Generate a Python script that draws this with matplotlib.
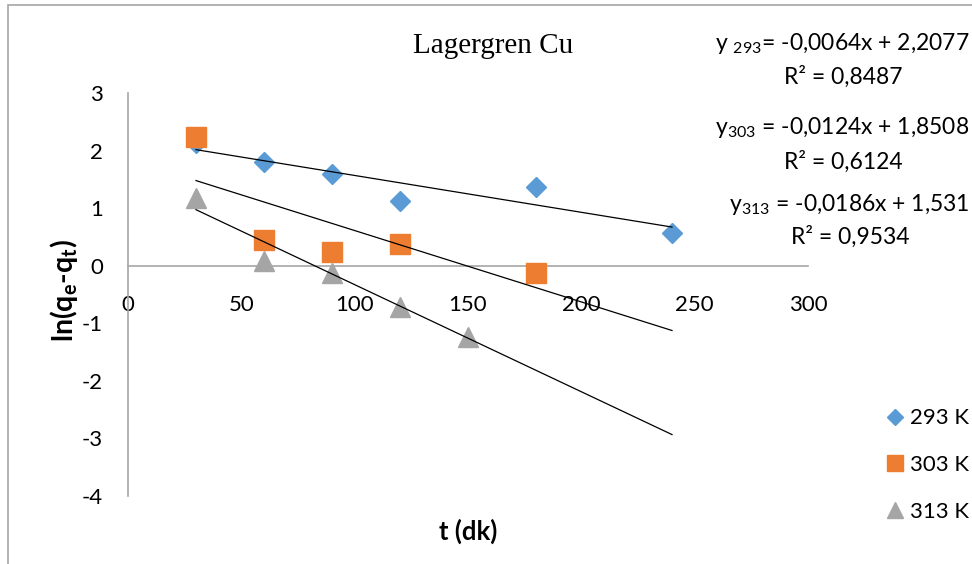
import numpy as np
import matplotlib.pyplot as plt
from matplotlib.patches import Rectangle

plt.rcParams['font.family'] = ['Lato', 'DejaVu Sans']
plt.rcParams['mathtext.fontset'] = 'custom'
plt.rcParams['mathtext.rm'] = 'Lato'
plt.rcParams['mathtext.bf'] = 'Lato:bold'
plt.rcParams['axes.unicode_minus'] = False

# time (dk) and ln(qe - qt) for each temperature
t_293 = [30, 60, 90, 120, 180, 240]
y_293 = [2.13, 1.80, 1.59, 1.12, 1.37, 0.56]
t_303 = [30, 60, 90, 120, 180]
y_303 = [2.24, 0.45, 0.24, 0.38, -0.12]
t_313 = [30, 60, 90, 120, 150]
y_313 = [1.18, 0.08, -0.12, -0.72, -1.23]

# trendlines as reported on the chart
labels = ['293 K', '303 K', '313 K']
slopes = [-0.0064, -0.0124, -0.0186]
intercepts = [2.2077, 1.8508, 1.531]
r2 = ['0,8487', '0,6124', '0,9534']
trend_range = [30, 240]

colors = ['#5B9BD5', '#ED7D31', '#A5A5A5']
markers = ['D', 's', '^']
sizes = [10.5, 14, 14]

fig = plt.figure(figsize=(9.72, 5.64), dpi=100)
ax = fig.add_axes([128 / 972, 1 - 496 / 564, 680 / 972, 403 / 564])

series = [(t_293, y_293), (t_303, y_303), (t_313, y_313)]
handles = []
for (t, y), c, m, s, lab in zip(series, colors, markers, sizes, labels):
    h, = ax.plot(t, y, linestyle='none', marker=m, markersize=s, color=c,
                 markeredgecolor=c, label=lab, zorder=3)
    handles.append(h)

xs = np.array(trend_range)
for a, b in zip(slopes, intercepts):
    ax.plot(xs, a * xs + b, color='black', lw=0.9, zorder=4)

ax.set_xlim(0, 300)
ax.set_ylim(-4, 3)
ax.set_xticks(range(0, 301, 50))
ax.set_yticks(range(-4, 4))
ax.spines['bottom'].set_position(('data', 0))
for side in ['top', 'right']:
    ax.spines[side].set_visible(False)
for side in ['bottom', 'left']:
    ax.spines[side].set_color('#A6A6A6')
    ax.spines[side].set_linewidth(1.2)
ax.tick_params(axis='both', length=0, labelsize=16)
ax.tick_params(axis='x', pad=21)
ax.tick_params(axis='y', pad=18)

ax.set_xlabel('t (dk)', fontsize=18.5, fontweight='bold')
ax.xaxis.set_label_coords(0.5, -0.055)
ax.set_ylabel('ln(q$_\\mathbf{e}$-q$_\\mathbf{t}$)', fontsize=20.5, fontweight='bold')
ax.yaxis.set_label_coords(-0.07, 0.51)

W, H = 972, 564


def ftext(x, y, s, **kw):
    fig.text(x / W, 1 - y / H, s, ha='center', va='center', **kw)


ftext(493, 46, 'Lagergren Cu', family='Liberation Serif', fontsize=21)

eq_pos = [(842, 44, 843, 77), (842, 128, 843, 162), (849, 205, 850, 237)]
subs = ['y $_\\mathregular{293}$= ', 'y$_\\mathregular{303}$ = ', 'y$_\\mathregular{313}$ = ']
for (x1, y1, x2, y2), sb, a, b, r in zip(eq_pos, subs, slopes, intercepts, r2):
    eq = sb + ('%.4f' % a).rstrip('0').replace('.', ',') + 'x + ' + \
        ('%.4f' % b).rstrip('0').replace('.', ',')
    ftext(x1, y1, eq, fontsize=16.5)
    ftext(x2, y2, 'R² = ' + r, fontsize=16.5)

fig.legend(handles=handles, loc='center left', bbox_to_anchor=(886 / W, 1 - 465 / H),
           frameon=False, fontsize=16, markerscale=0.8, handlelength=0.8,
           handletextpad=0.3, labelspacing=1.2, borderpad=0, borderaxespad=0)

fig.patches.append(Rectangle((8 / W, -0.1), 1.2, 1 - 5 / H + 0.1, transform=fig.transFigure,
                             fill=False, edgecolor='#A6A6A6', lw=1.2))

fig.savefig('out.png', dpi=100)
